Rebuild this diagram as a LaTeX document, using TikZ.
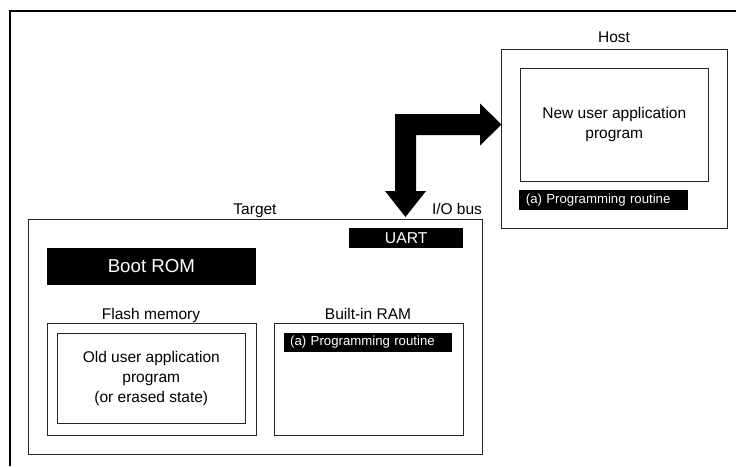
\documentclass[tikz,border=0pt]{standalone}
\usepackage{fontspec}
\setmainfont{Liberation Sans}
\begin{document}
\begin{tikzpicture}[x=1pt,y=-1pt,
  box/.style={draw=black!85, line width=0.9pt, inner sep=0pt, anchor=north west},
  bar/.style={fill=black, text=white, inner sep=0pt, anchor=north west},
  lbl/.style={inner sep=0pt, font=\fontsize{15.5}{18}\selectfont},
  body/.style={font=\fontsize{15.5}{20}\selectfont, align=center},
  routine/.style={bar, minimum width=168.5pt, minimum height=19.5pt,
    font=\fontsize{13.2}{15}\selectfont, text width=168.5pt, align=left}]
\useasboundingbox (0,0) rectangle (736,466);

% open frame round the whole figure
\draw[line width=1.4pt] (10,466) -- (10,11) -- (736,11);

% host side
\node[box, minimum width=226pt, minimum height=179pt] (host) at (500.7,49) {};
\node[lbl, anchor=base] (hostlbl) at (614,42) {Host};
\node[box, minimum width=187.7pt, minimum height=113pt, body] (newprog) at (520,67.7) {};
\node[body] (newtxt) at (newprog.center) {New user application\\program};
\node[routine] (hostroutine) at (519,190) {\hspace*{6.7pt}(a) Programming routine};

% target side
\node[box, minimum width=453.4pt, minimum height=235.3pt] (target) at (28.3,219) {};
\node[lbl, anchor=base] (targetlbl) at (255,214.5) {Target};
\node[lbl, anchor=base] (iobus) at (457,214.5) {I/O bus};
\node[bar, minimum width=114pt, minimum height=19.6pt, font=\fontsize{15.7}{18}\selectfont] (uart) at (349,227.7) {UART};
\node[bar, minimum width=209pt, minimum height=37.7pt, font=\fontsize{18.7}{22}\selectfont] (bootrom) at (46.7,247.3) {Boot ROM};

\node[lbl, anchor=base] (flashlbl) at (151,319) {Flash memory};
\node[box, minimum width=208.4pt, minimum height=112.3pt] (flash) at (47.3,322.7) {};
\node[box, minimum width=188.3pt, minimum height=90pt] (oldprog) at (56.7,332.7) {};
\node[body] (oldtxt) at (oldprog.center) {Old user application\\program\\(or erased state)};

\node[lbl, anchor=base] (ramlbl) at (368,319) {Built-in RAM};
\node[box, minimum width=188.4pt, minimum height=112.6pt] (ram) at (274.3,322.7) {};
\node[routine, minimum width=168.4pt, text width=168.4pt] (ramroutine) at (283.3,332.3) {\hspace*{6.7pt}(a) Programming routine};

% I/O bus connector: bent block arrow from the target's bus to the host
\coordinate (downtip) at (405.5,217);
\coordinate (righttip) at (501.5,124.5);
\fill (395,114) -- (480,114) -- (480,103.5) -- (righttip) -- (480,145.5)
  -- (480,135) -- (416,135) -- (416,191) -- (426,191) -- (downtip)
  -- (385,191) -- (395,191) -- cycle;
\end{tikzpicture}
\end{document}
